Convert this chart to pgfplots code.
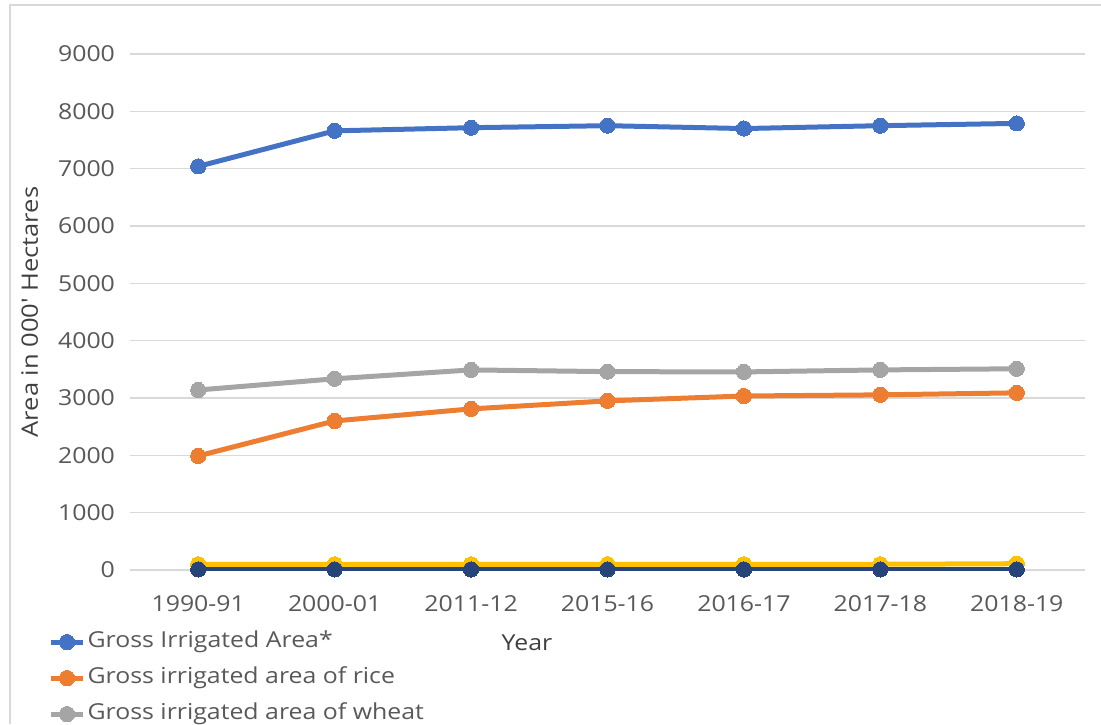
\documentclass[border=0pt]{standalone}
\usepackage{fontspec}
\setmainfont{Open Sans}[FakeStretch=1.13]
\usepackage{pgfplots}
\pgfplotsset{compat=1.18}
\definecolor{cBlue}{HTML}{4472C4}
\definecolor{cOrange}{HTML}{ED7D31}
\definecolor{cGray}{HTML}{A5A5A5}
\definecolor{cYellow}{HTML}{FFC000}
\definecolor{cNavy}{HTML}{264478}
\definecolor{cGrid}{HTML}{D9D9D9}
\definecolor{cText}{HTML}{595959}
\definecolor{cLabel}{HTML}{404040}
\begin{document}
\begin{tikzpicture}
\path[use as bounding box] (0,0) rectangle (550.5pt,362pt);
\clip (0,0) rectangle (550.5pt,362pt);
\draw[cGrid, line width=0.6pt] (5pt,0) -- (5pt,359.5pt) -- (550.5pt,359.5pt);
\begin{axis}[
  at={(65pt,77pt)}, anchor=south west,
  scale only axis, width=477.5pt, height=258pt,
  xmin=-0.5, xmax=6.5, ymin=0, ymax=9000,
  xtick={0,...,6},
  xticklabels={1990-91,2000-01,2011-12,2015-16,2016-17,2017-18,2018-19},
  ytick={0,1000,...,9000},
  ymajorgrids, grid style={cGrid, line width=0.75pt},
  axis line style={draw=none},
  major tick length=0pt,
  /pgf/number format/assume math mode=true,
  /pgf/number format/set thousands separator={},
  tick label style={font=\fontsize{11}{13}\selectfont, text=cText},
  xticklabel style={yshift=-9pt},
  yticklabel style={xshift=-4pt},
  ylabel={Area in 000\textquotesingle{} Hectares},
  ylabel style={at={(axis description cs:-0.105,0.5)}, anchor=center, font=\fontsize{11.3}{13}\selectfont, text=cLabel},
  xlabel={Year},
  xlabel style={at={(axis description cs:0.4157,-0.1415)}, anchor=center, font=\fontsize{11}{13}\selectfont, text=cLabel},
  legend style={draw=none, fill=none, at={(axis description cs:-0.092,-0.105)}, anchor=north west,
    font=\fontsize{11}{13}\selectfont, text=cText,
    nodes={text height=8.5pt, text depth=3pt, inner sep=1pt},
    row sep=4.5pt},
  legend cell align=left,
  legend image code/.code={\draw[#1, mark repeat=2, mark phase=2] plot coordinates {(0pt,0pt) (8pt,0pt) (16pt,0pt)};},
  every axis plot/.append style={line width=2.5pt, mark=*, mark size=3.8pt},
]
\addplot[cBlue, mark options={fill=cBlue, draw=cBlue, line width=0pt}] coordinates {(0,7040) (1,7660) (2,7715) (3,7750) (4,7700) (5,7750) (6,7790)};
\addlegendentry{Gross Irrigated Area*}
\addplot[cOrange, mark options={fill=cOrange, draw=cOrange, line width=0pt}] coordinates {(0,1990) (1,2600) (2,2810) (3,2950) (4,3035) (5,3055) (6,3090)};
\addlegendentry{Gross irrigated area of rice}
\addplot[cGray, mark options={fill=cGray, draw=cGray, line width=0pt}] coordinates {(0,3140) (1,3335) (2,3490) (3,3460) (4,3455) (5,3490) (6,3510)};
\addlegendentry{Gross irrigated area of wheat}
\addplot[cYellow, forget plot, mark options={fill=cYellow, draw=cYellow, line width=0pt}] coordinates {(0,100) (1,100) (2,100) (3,100) (4,100) (5,100) (6,110)};
\addplot[cNavy, forget plot, mark options={fill=cNavy, draw=cNavy, line width=0pt}] coordinates {(0,10) (1,10) (2,10) (3,10) (4,10) (5,10) (6,10)};
\end{axis}
\end{tikzpicture}
\end{document}
